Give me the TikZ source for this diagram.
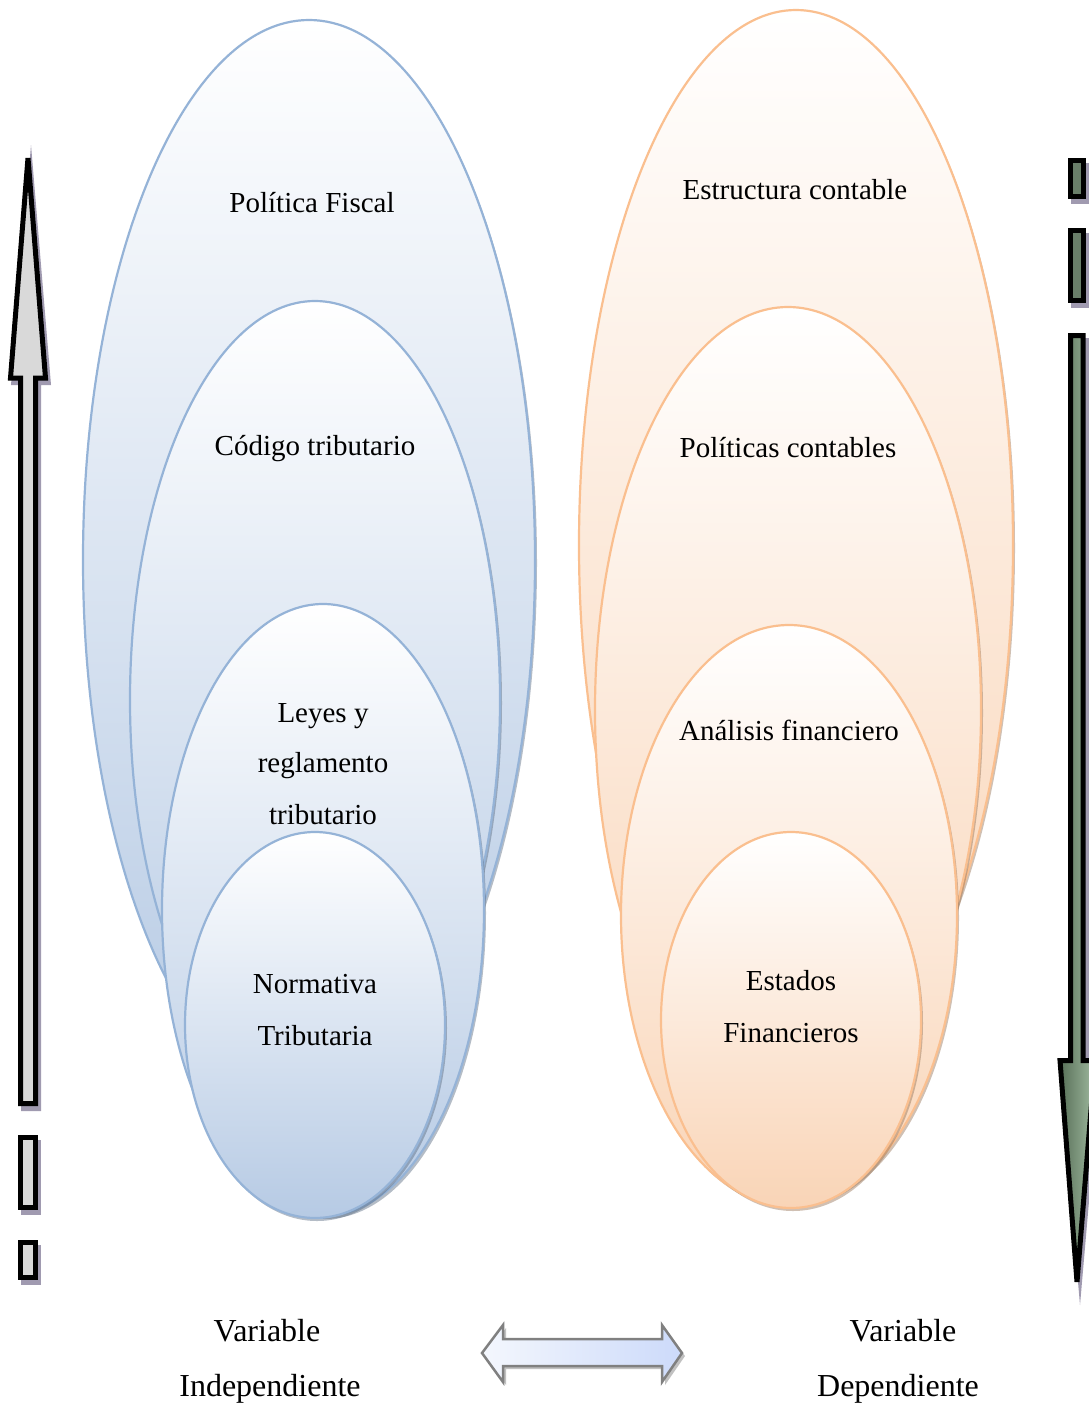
\documentclass[tikz,border=0pt]{standalone}
\usepackage{fontspec}
\setmainfont{Liberation Serif}
\begin{document}
\begin{tikzpicture}[x=1pt,y=-1pt]
\definecolor{bline}{RGB}{149,179,215}
\definecolor{bfill}{RGB}{182,202,228}
\definecolor{oline}{RGB}{250,191,143}
\definecolor{ofill}{RGB}{249,212,182}
\definecolor{shadowc}{RGB}{160,154,176}
\definecolor{arrgrey}{RGB}{217,217,217}
\definecolor{gdark}{RGB}{88,112,88}
\definecolor{glight}{RGB}{160,186,160}
\tikzset{
  blueell/.style={draw=bline, line width=2.2pt, top color=white, bottom color=bfill},
  orangeell/.style={draw=oline, line width=2.2pt, top color=white, bottom color=ofill},
  bshadow/.style={fill=bline!60!black, opacity=0.45},
  oshadow/.style={fill=oline!60!black, opacity=0.45},
  lbl/.style={font=\fontsize{29}{35}\selectfont, anchor=base, inner sep=0pt},
  biglbl/.style={font=\fontsize{32}{38}\selectfont, anchor=base, inner sep=0pt},
  blockarrow/.style={draw=black, line width=5pt, line join=miter, miter limit=4},
  ashadow/.style={fill=shadowc}
}
\useasboundingbox (0,0) rectangle (1088,1403);

% ---------- left ellipses (blue) ----------
\fill[bshadow] (311,563) ellipse [x radius=226, y radius=540];
\draw[blueell] (309,560) ellipse [x radius=226, y radius=540];
\fill[bshadow] (317,703) ellipse [x radius=185, y radius=399];
\draw[blueell] (315,700) ellipse [x radius=185, y radius=399];
\fill[bshadow] (325,913) ellipse [x radius=161, y radius=306];
\draw[blueell] (323,910) ellipse [x radius=161, y radius=306];
\fill[bshadow] (317,1028) ellipse [x radius=130, y radius=193];
\draw[blueell] (315,1025) ellipse [x radius=130, y radius=193];

% ---------- right ellipses (orange) ----------
\fill[oshadow] (798,548) ellipse [x radius=217, y radius=535];
\draw[orangeell] (796,545) ellipse [x radius=217, y radius=535];
\fill[oshadow] (790,713) ellipse [x radius=193, y radius=403];
\draw[orangeell] (788,710) ellipse [x radius=193, y radius=403];
\fill[oshadow] (791,918) ellipse [x radius=168, y radius=290];
\draw[orangeell] (789,915) ellipse [x radius=168, y radius=290];
\fill[oshadow] (793,1023) ellipse [x radius=130, y radius=188];
\draw[orangeell] (791,1020) ellipse [x radius=130, y radius=188];

% ---------- texts ----------
\node[lbl] (pf) at (312,212) {Política Fiscal};
\node[lbl] (ct) at (315,455) {Código tributario};
\node[lbl] (ly1) at (323,722) {Leyes y};
\node[lbl] (ly2) at (323,772) {reglamento};
\node[lbl] (ly3) at (323,824) {tributario};
\node[lbl] (nt1) at (315,993) {Normativa};
\node[lbl] (nt2) at (315,1045) {Tributaria};
\node[lbl] (ec) at (795,199) {Estructura contable};
\node[lbl] (pc) at (788,457) {Políticas contables};
\node[lbl] (af) at (789,740) {Análisis financiero};
\node[lbl] (ef1) at (791,990) {Estados};
\node[lbl] (ef2) at (791,1042) {Financieros};
\node[biglbl] (vi1) at (267,1341) {Variable};
\node[biglbl] (vi2) at (270,1396) {Independiente};
\node[biglbl] (vd1) at (903,1341) {Variable};
\node[biglbl] (vd2) at (898,1396) {Dependiente};

% ---------- left up arrow ----------
\begin{scope}[shift={(3,5)}]
\fill[ashadow] (18,1106) -- (18,380) -- (8,380) -- (28,140) -- (48,380) -- (38,380) -- (38,1106) -- cycle;
\fill[ashadow] (18,1135) rectangle (38,1210);
\fill[ashadow] (18,1240) rectangle (38,1280);
\end{scope}
\draw[blockarrow, fill=arrgrey] (20.5,1103.5) -- (20.5,378) -- (10.5,378) -- (28,158) -- (45.5,378) -- (35.5,378) -- (35.5,1103.5) -- cycle;
\draw[blockarrow, fill=arrgrey] (20.5,1137.5) rectangle (35.5,1207.5);
\draw[blockarrow, fill=arrgrey] (20.5,1242.5) rectangle (35.5,1277.5);

% ---------- right down arrow ----------
\begin{scope}[shift={(3,5)}]
\fill[ashadow] (1068,158) rectangle (1086,199);
\fill[ashadow] (1068,228) rectangle (1086,303);
\fill[ashadow] (1068,333) -- (1068,1058) -- (1056,1058) -- (1077,1300) -- (1098,1058) -- (1086,1058) -- (1086,333) -- cycle;
\end{scope}
\draw[blockarrow, fill=gdark!90!white] (1070.5,160.5) rectangle (1083,196.5);
\draw[blockarrow, fill=gdark!90!white] (1070.5,230.5) rectangle (1083,300.5);
\draw[blockarrow, left color=gdark, right color=glight] (1070.5,335.5) -- (1070.5,1060.5) -- (1060,1060.5) -- (1077,1282) -- (1095,1060.5) -- (1083,1060.5) -- (1083,335.5) -- cycle;

% ---------- bottom double arrow ----------
\fill[gray!60, opacity=0.8] (485,1356) -- (506,1328) -- (506,1342) -- (665,1342) -- (665,1328) -- (685,1356) -- (665,1385) -- (665,1369) -- (506,1369) -- (506,1385) -- cycle;
\draw[draw=gray, line width=2.5pt, left color={rgb,255:red,244;green,247;blue,253}, right color={rgb,255:red,204;green,218;blue,250}]
  (482,1353) -- (503,1325) -- (503,1339) -- (662,1339) -- (662,1325) -- (682,1353) -- (662,1382) -- (662,1366) -- (503,1366) -- (503,1382) -- cycle;
\end{tikzpicture}
\end{document}
